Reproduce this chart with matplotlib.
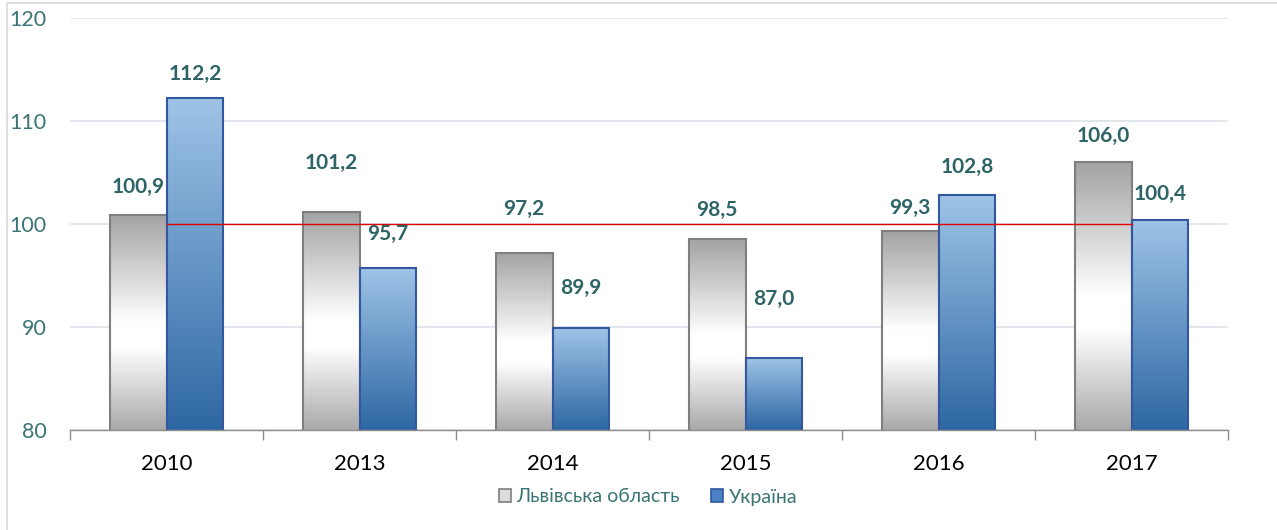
import numpy as np
import matplotlib
matplotlib.use("Agg")
import matplotlib.pyplot as plt
from matplotlib.colors import LinearSegmentedColormap
from matplotlib.patches import Rectangle

years = ["2010", "2013", "2014", "2015", "2016", "2017"]
lviv = [100.9, 101.2, 97.2, 98.5, 99.3, 106.0]
ukraine = [112.2, 95.7, 89.9, 87.0, 102.8, 100.4]
# label heights as placed by hand in the original chart
lviv_label_y = [103.6, 105.9, 101.5, 101.4, 101.6, 108.5]
ukr_label_y = [114.6, 99.0, 93.8, 92.7, 105.5, 102.9]
yticks = [80, 90, 100, 110, 120]
baseline = 100

plt.rcParams["font.family"] = ["Lato", "DejaVu Sans"]
TEAL = "#2f6466"

fig = plt.figure(figsize=(12.77, 5.30), dpi=100)
ax = fig.add_axes([70 / 1277, 1 - 430 / 530, 1158 / 1277, 412 / 530])

# chart frame
fig.patches.append(Rectangle((7 / 1277, -0.1), 1.2, 1 - 3 / 530 + 0.1, transform=fig.transFigure,
                             facecolor="none", edgecolor="#d9d9d9", lw=1.2, zorder=0))

grey_cm = LinearSegmentedColormap.from_list(
    "g", [(0, "#a3a3a3"), (0.5, "#ffffff"), (0.62, "#ffffff"), (1, "#a9a9a9")])
blue_cm = LinearSegmentedColormap.from_list("b", [(0, "#9fc4e7"), (1, "#2d67a3")])
grad = np.linspace(0, 1, 256)[:, None]

x = np.arange(len(years))
w = 0.295
b1 = ax.bar(x - w / 2, lviv, w, facecolor="none", edgecolor="#7f7f7f", lw=1.5, zorder=3)
b2 = ax.bar(x + w / 2, ukraine, w, facecolor="none", edgecolor="#34589f", lw=1.5, zorder=3)

y0 = 80
for bars, cm in ((b1, grey_cm), (b2, blue_cm)):
    for p in bars:
        bx, bw, top = p.get_x(), p.get_width(), p.get_height()
        ax.imshow(grad, cmap=cm, aspect="auto", extent=[bx, bx + bw, y0, top],
                  origin="upper", zorder=2, interpolation="bilinear")
ax.set_xlim(-0.5, len(years) - 0.5)
ax.set_ylim(80, 120)

ax.plot(x, [baseline] * len(x), color="#e00000", lw=1.0, zorder=4)

for i in range(len(years)):
    ax.text(x[i] - w / 2, lviv_label_y[i], f"{lviv[i]:.1f}".replace(".", ","), ha="center", va="center",
            fontsize=15, fontweight="bold", color=TEAL, zorder=5)
    ax.text(x[i] + w / 2, ukr_label_y[i], f"{ukraine[i]:.1f}".replace(".", ","), ha="center", va="center",
            fontsize=15, fontweight="bold", color=TEAL, zorder=5)

ax.set_yticks(yticks)
ax.set_yticklabels([str(t) for t in yticks], color="#3a7474", fontsize=15.5)
ax.yaxis.grid(True, color="#dde3ea", lw=1.2, zorder=0)
ax.set_axisbelow(True)
ax.tick_params(axis="y", length=0, pad=17)

ax.set_xticks(x)
ax.set_xticklabels(years, fontsize=16, color="black")
ax.set_xticks(np.arange(-0.5, len(years)), minor=True)
ax.tick_params(axis="x", which="major", length=0, pad=17)
ax.tick_params(axis="x", which="minor", length=7, color="#8c8c8c", width=1)

for s in ("left", "right", "top"):
    ax.spines[s].set_visible(False)
ax.spines["bottom"].set_color("#8c8c8c")
ax.spines["bottom"].set_linewidth(1)
ax.spines["bottom"].set_zorder(6)

h1 = Rectangle((0, 0), 1, 1, facecolor="#dcdcdc", edgecolor="#7f7f7f", lw=1.2)
h2 = Rectangle((0, 0), 1, 1, facecolor="#4a82c3", edgecolor="#34589f", lw=1.2)
leg = fig.legend([h1, h2], ["Львівська область", "Україна"], loc="center",
                 bbox_to_anchor=(648 / 1277, 1 - 497 / 530), ncol=2, frameon=False,
                 fontsize=14, handlelength=0.6, handleheight=0.6, handletextpad=0.3,
                 columnspacing=1.6)
for t in leg.get_texts():
    t.set_color("#3a7474")

fig.savefig("out.png", dpi=100)
